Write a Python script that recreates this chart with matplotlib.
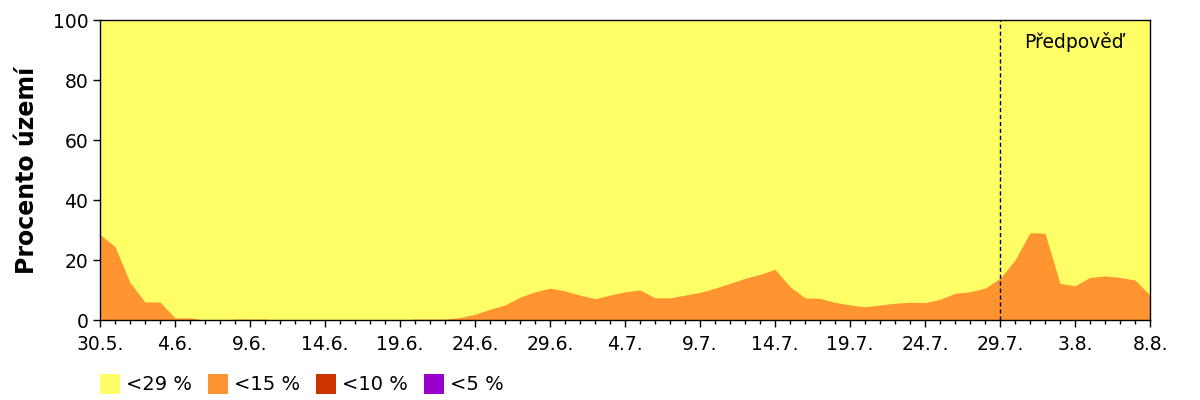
import numpy as np
import matplotlib.pyplot as plt
from matplotlib.patches import Rectangle

# denni hodnoty 30.5. - 8.8. (procento uzemi)
pod15 = [28.5, 24.5, 12.5, 6.0, 6.0, 0.7, 0.7, 0.0, 0.0, 0.3,
         0.3, 0.3, 0.0, 0.0, 0.0, 0.0, 0.0, 0.0, 0.0, 0.0,
         0.0, 0.3, 0.3, 0.3, 0.8, 1.9, 3.6, 5.0, 7.6, 9.4,
         10.6, 9.7, 8.3, 7.1, 8.3, 9.4, 10.0, 7.4, 7.4, 8.3,
         9.2, 10.6, 12.2, 13.9, 15.2, 16.9, 11.1, 7.4, 7.2, 5.9,
         5.0, 4.4, 5.0, 5.6, 5.9, 5.8, 6.9, 8.9, 9.4, 10.6,
         13.9, 20.0, 29.1, 28.9, 12.2, 11.4, 14.2, 14.7, 14.2, 13.3,
         8.3]
pod10 = [0.0] * len(pod15)
pod5 = [0.0] * len(pod15)
pod29 = [100.0] * len(pod15)

tick_labels = ['30.5.', '4.6.', '9.6.', '14.6.', '19.6.', '24.6.', '29.6.', '4.7.',
               '9.7.', '14.7.', '19.7.', '24.7.', '29.7.', '3.8.', '8.8.']
predpoved_od = 60

barvy = ['#FFFF66', '#FF9430', '#CC3300', '#9900CC']
popisky = ['<29 %', '<15 %', '<10 %', '<5 %']

plt.rcParams['font.family'] = 'DejaVu Sans'
fig = plt.figure(figsize=(12, 4), dpi=100)
ax = fig.add_axes([100/1200, 80/400, 1050/1200, 300/400])

x = np.arange(len(pod15))
ax.fill_between(x, 0, pod29, color=barvy[0], lw=0, antialiased=False)
ax.fill_between(x, 0, pod15, color=barvy[1], lw=0, antialiased=False)
ax.fill_between(x, 0, pod10, color=barvy[2], lw=0, antialiased=False)
ax.fill_between(x, 0, pod5, color=barvy[3], lw=0, antialiased=False)

ax.axvline(predpoved_od, color='black', lw=1, ls=(0, (3, 2)))
ax.text(predpoved_od + 4.9, 92.7, 'Předpověď', fontsize=13.5, ha='center', va='center')

ax.set_xlim(0, len(pod15) - 1)
ax.set_ylim(0, 100)
ax.set_xticks(np.arange(0, len(pod15), 5))
ax.set_xticklabels(tick_labels)
ax.set_xticks(x, minor=True)
ax.set_yticks([0, 20, 40, 60, 80, 100])
ax.tick_params(axis='both', which='major', labelsize=13.5, length=5, width=1, direction='out')
ax.tick_params(axis='x', which='minor', length=3, width=1)
ax.tick_params(axis='x', pad=6)
ax.set_ylabel('Procento území', fontsize=17, fontweight='bold', labelpad=10)
for s in ax.spines.values():
    s.set_linewidth(1)

# legenda pod grafem - ctverecky po 108 px
for i, (c, t) in enumerate(zip(barvy, popisky)):
    x0 = (100 + 108 * i) / 1200
    fig.add_artist(Rectangle((x0, 6/400), 20/1200, 20/400, transform=fig.transFigure,
                             facecolor=c, edgecolor='none'))
    fig.text(x0 + 26/1200, 16/400, t, fontsize=14, ha='left', va='center')

plt.savefig('out.png', dpi=100)
